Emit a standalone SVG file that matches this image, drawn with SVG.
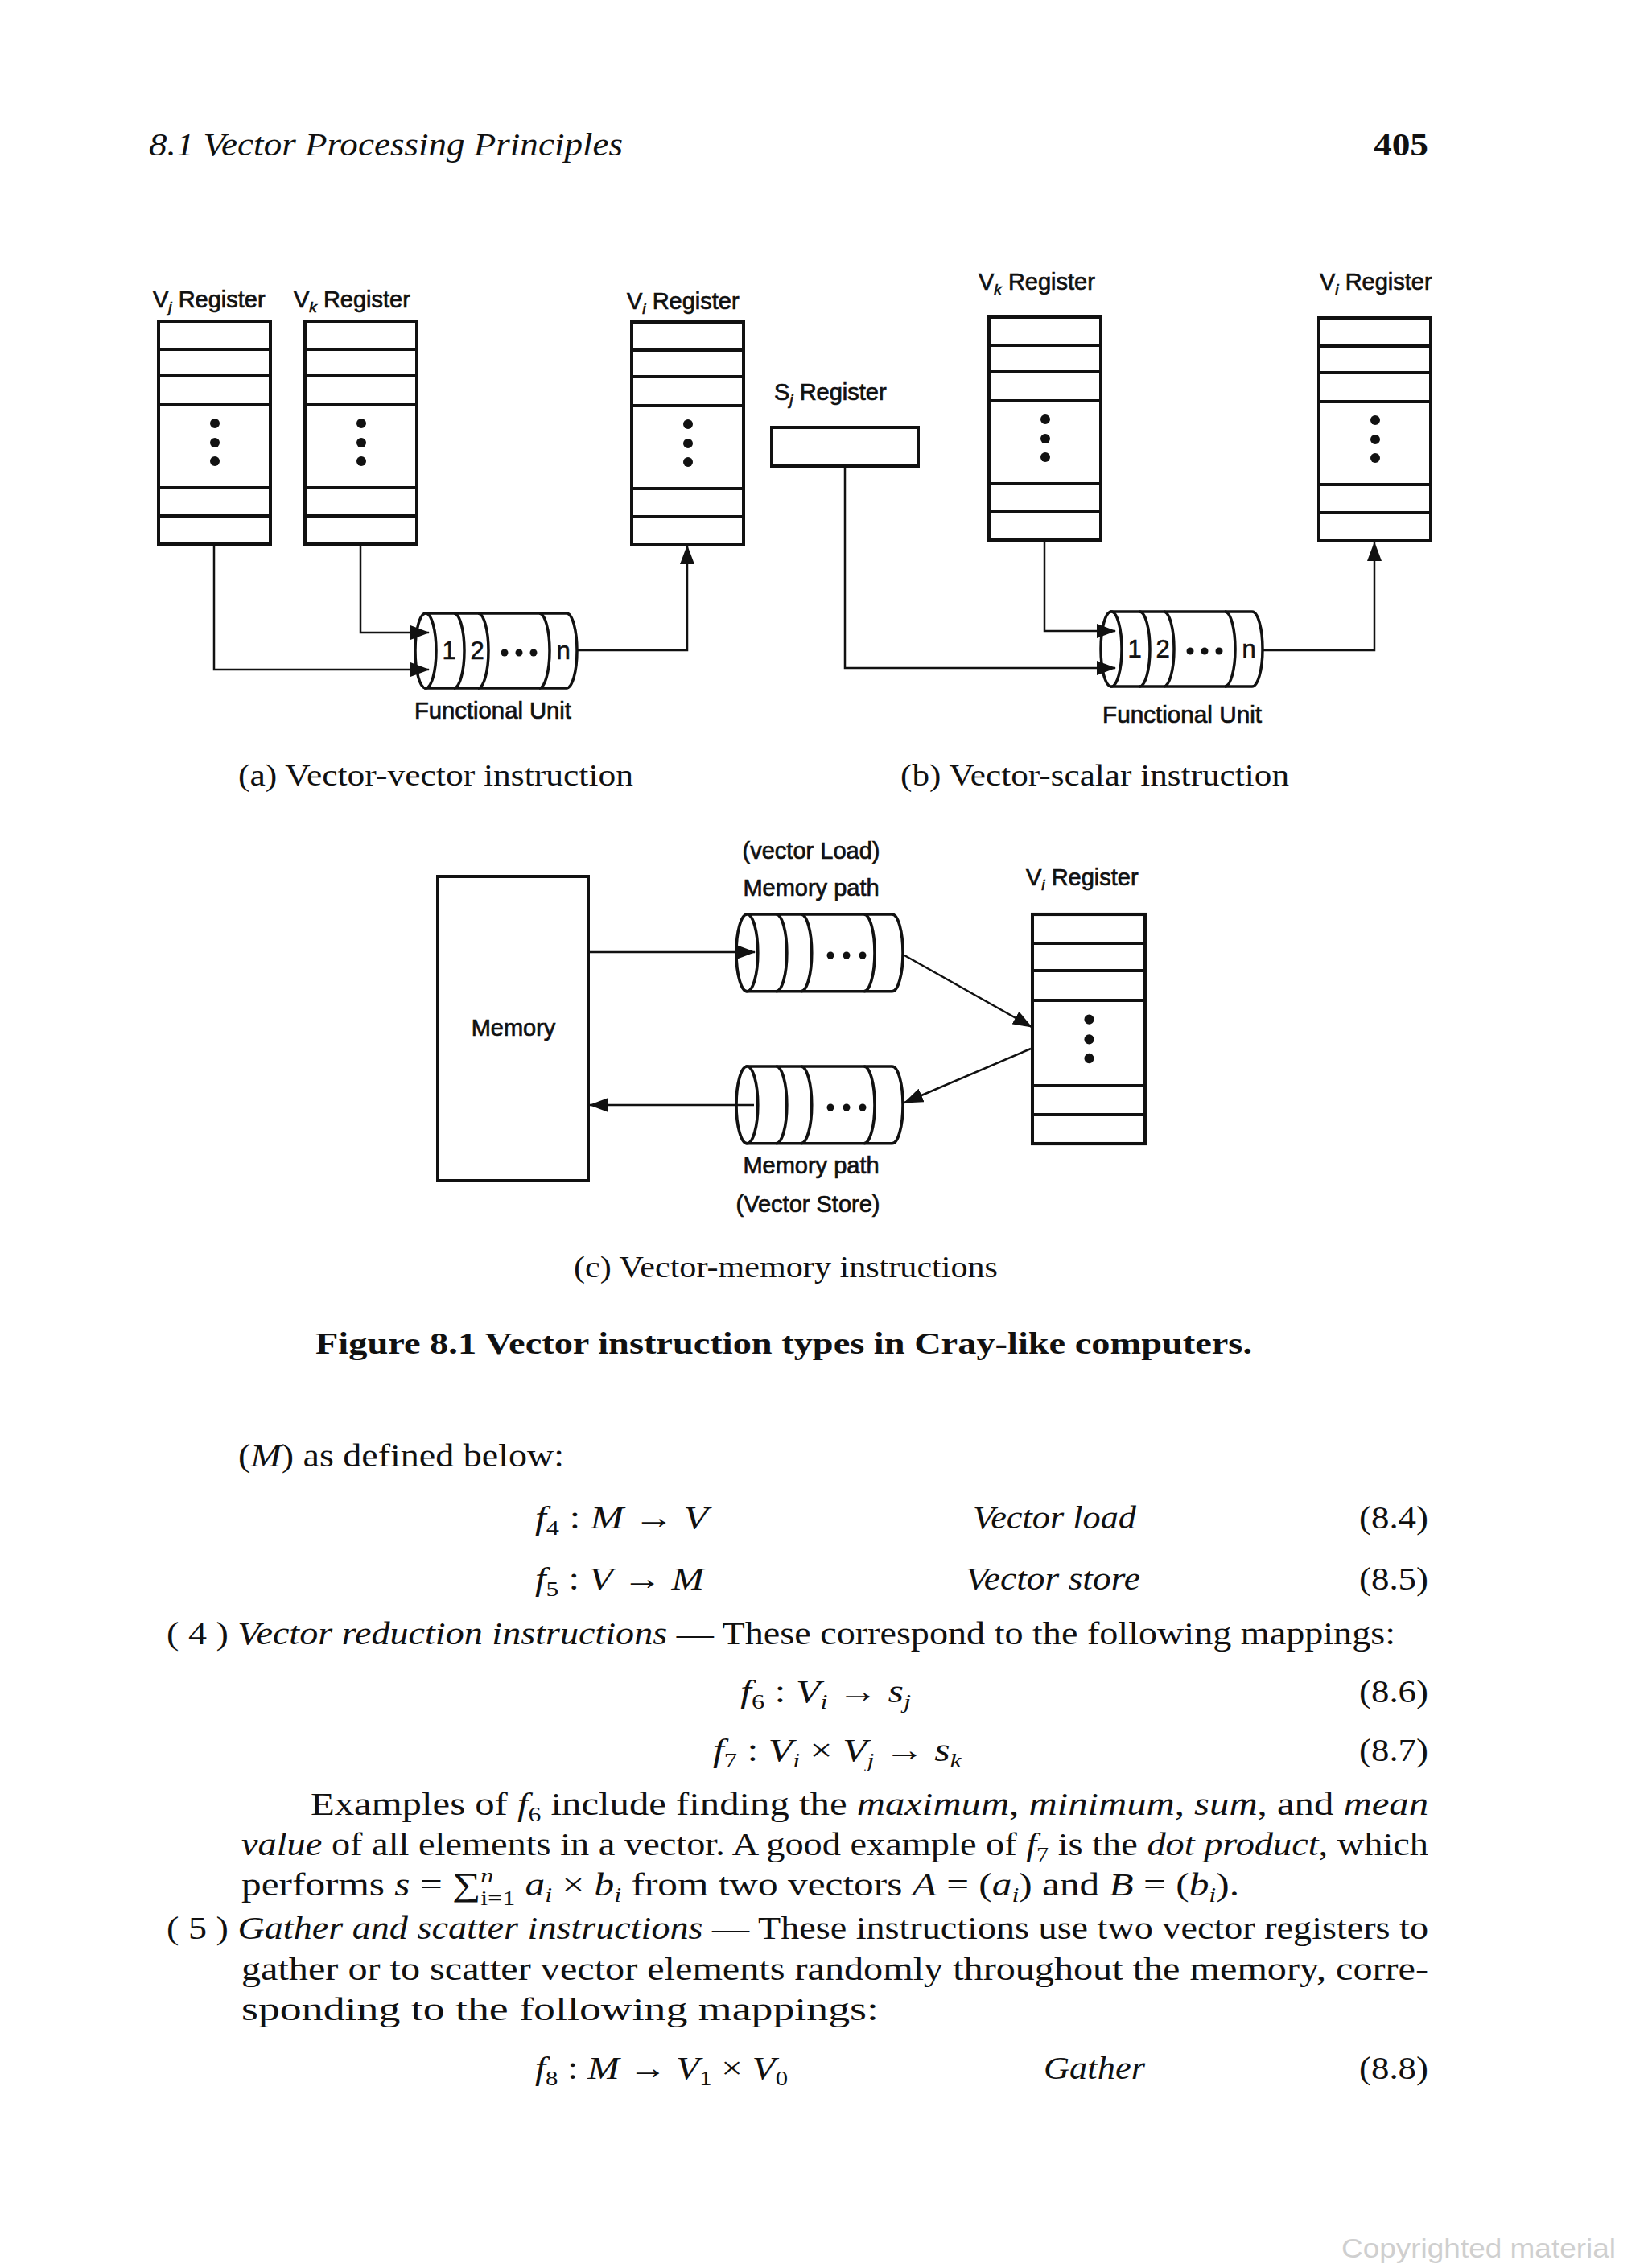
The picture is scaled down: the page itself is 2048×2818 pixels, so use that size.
<svg xmlns="http://www.w3.org/2000/svg" width="2048" height="2818" viewBox="0 0 2048 2818">
<style>
.bg{fill:#fff}
.box{fill:#fff;stroke:#111;stroke-width:4}
.div{stroke:#111;stroke-width:4}
.cyl{fill:#fff;stroke:#111;stroke-width:3.5}
.arc{fill:none;stroke:#111;stroke-width:3.5}
.con{fill:none;stroke:#111;stroke-width:2.5}
.lbl{font-family:"Liberation Sans",Arial,sans-serif;font-size:29px;fill:#111;stroke:#111;stroke-width:0.7}
.num{font-family:"Liberation Sans",Arial,sans-serif;font-size:31px;fill:#111;stroke:#111;stroke-width:0.6;text-anchor:middle}
.sub{font-size:19px;font-style:italic}
.cap{font-family:"Liberation Serif","Times New Roman",serif;font-size:38px;fill:#111}
.body{font-family:"Liberation Serif","Times New Roman",serif;font-size:40px;fill:#111}
.it{font-style:italic}
.sb{font-size:26px}
.dot{fill:#111}
.wm{font-family:"Liberation Sans",Arial,sans-serif;font-size:34px;fill:#cfcfcf}
</style>
<defs>
<marker id="ah" markerWidth="24" markerHeight="18" refX="23" refY="9" orient="auto" markerUnits="userSpaceOnUse">
<path d="M0,0 L24,9 L0,18 Z" fill="#111"/>
</marker>
<g id="reg">
<rect class="box" x="0" y="0" width="139" height="277"/>
<line class="div" x1="0" y1="35" x2="139" y2="35"/>
<line class="div" x1="0" y1="68" x2="139" y2="68"/>
<line class="div" x1="0" y1="104" x2="139" y2="104"/>
<line class="div" x1="0" y1="207" x2="139" y2="207"/>
<line class="div" x1="0" y1="242" x2="139" y2="242"/>
<circle class="dot" cx="70" cy="127" r="6"/>
<circle class="dot" cx="70" cy="151" r="6"/>
<circle class="dot" cx="70" cy="174" r="6"/>
</g>
<g id="cylinder">
<path class="cyl" d="M13,0 H188 A13,46.5 0 0 1 188,93 H13 Z"/>
<ellipse class="cyl" cx="13" cy="46.5" rx="13" ry="46.5"/>
<path class="arc" d="M48,0 A13,46.5 0 0 1 48,93 M78,0 A13,46.5 0 0 1 78,93 M154,0 A13,46.5 0 0 1 154,93"/>
</g>
</defs>
<rect class="bg" x="0" y="0" width="2048" height="2818"/>

<!-- Page header -->
<text class="body it" x="185" y="193" textLength="589" lengthAdjust="spacingAndGlyphs">8.1 Vector Processing Principles</text>
<text class="body" x="1707" y="193" font-weight="bold" textLength="68" lengthAdjust="spacingAndGlyphs">405</text>

<!-- (a) Vector-vector instruction -->
<g id="a-vj-register">
<text class="lbl" x="190" y="382">V<tspan class="sub" dy="6">j</tspan><tspan dy="-6"> Register</tspan></text>
<use href="#reg" x="197" y="399"/>
</g>
<g id="a-vk-register">
<text class="lbl" x="365" y="382">V<tspan class="sub" dy="6">k</tspan><tspan dy="-6"> Register</tspan></text>
<use href="#reg" x="379" y="399"/>
</g>
<g id="a-vi-register">
<text class="lbl" x="779" y="384">V<tspan class="sub" dy="6">i</tspan><tspan dy="-6"> Register</tspan></text>
<use href="#reg" x="785" y="400"/>
</g>
<g id="a-functional-unit">
<use href="#cylinder" x="516" y="762"/>
<text class="num" x="558" y="819">1</text>
<text class="num" x="593" y="819">2</text>
<circle class="dot" cx="627" cy="811" r="4.5"/>
<circle class="dot" cx="645" cy="811" r="4.5"/>
<circle class="dot" cx="663" cy="811" r="4.5"/>
<text class="num" x="700" y="819">n</text>
<text class="lbl" x="515" y="893" font-size="28" textLength="195" lengthAdjust="spacingAndGlyphs">Functional Unit</text>
</g>
<text class="cap" x="296" y="976" textLength="491" lengthAdjust="spacingAndGlyphs">(a) Vector-vector instruction</text>

<!-- (b) Vector-scalar instruction -->
<g id="b-sj-register">
<text class="lbl" x="962" y="497">S<tspan class="sub" dy="6">j</tspan><tspan dy="-6"> Register</tspan></text>
<rect class="box" x="959" y="531" width="182" height="48"/>
</g>
<g id="b-vk-register">
<text class="lbl" x="1216" y="360">V<tspan class="sub" dy="6">k</tspan><tspan dy="-6"> Register</tspan></text>
<use href="#reg" x="1229" y="394"/>
</g>
<g id="b-vi-register">
<text class="lbl" x="1640" y="360">V<tspan class="sub" dy="6">i</tspan><tspan dy="-6"> Register</tspan></text>
<use href="#reg" x="1639" y="395"/>
</g>
<g id="b-functional-unit">
<use href="#cylinder" x="1368" y="760"/>
<text class="num" x="1410" y="817">1</text>
<text class="num" x="1445" y="817">2</text>
<circle class="dot" cx="1479" cy="809" r="4.5"/>
<circle class="dot" cx="1497" cy="809" r="4.5"/>
<circle class="dot" cx="1515" cy="809" r="4.5"/>
<text class="num" x="1552" y="817">n</text>
<text class="lbl" x="1370" y="898" font-size="28" textLength="198" lengthAdjust="spacingAndGlyphs">Functional Unit</text>
</g>
<text class="cap" x="1119" y="976" textLength="483" lengthAdjust="spacingAndGlyphs">(b) Vector-scalar instruction</text>

<!-- (c) Vector-memory instructions -->
<g id="c-memory">
<rect class="box" x="544" y="1089" width="187" height="378"/>
<text class="lbl" x="638" y="1287" text-anchor="middle">Memory</text>
</g>
<g id="c-load-path">
<text class="lbl" x="1008" y="1067" text-anchor="middle">(vector Load)</text>
<text class="lbl" x="1008" y="1113" text-anchor="middle">Memory path</text>
<use href="#cylinder" transform="translate(915,1136) scale(1.03,1.03)"/>
<circle class="dot" cx="1032" cy="1187" r="4.5"/>
<circle class="dot" cx="1052" cy="1187" r="4.5"/>
<circle class="dot" cx="1072" cy="1187" r="4.5"/>
</g>
<g id="c-store-path">
<use href="#cylinder" transform="translate(915,1325) scale(1.03,1.03)"/>
<circle class="dot" cx="1032" cy="1376" r="4.5"/>
<circle class="dot" cx="1052" cy="1376" r="4.5"/>
<circle class="dot" cx="1072" cy="1376" r="4.5"/>
<text class="lbl" x="1008" y="1458" text-anchor="middle">Memory path</text>
<text class="lbl" x="1004" y="1506" text-anchor="middle">(Vector Store)</text>
</g>
<g id="c-vi-register">
<text class="lbl" x="1275" y="1100">V<tspan class="sub" dy="6">i</tspan><tspan dy="-6"> Register</tspan></text>
<use href="#reg" transform="translate(1283,1136) scale(1.007,1.029)"/>
</g>
<text class="cap" x="713" y="1587" textLength="527" lengthAdjust="spacingAndGlyphs">(c) Vector-memory instructions</text>

<!-- Connectors -->
<g id="connectors">
<path class="con" d="M266,676 V832 H533" marker-end="url(#ah)"/>
<path class="con" d="M448,676 V786 H533" marker-end="url(#ah)"/>
<path class="con" d="M717,808 H854 V678" marker-end="url(#ah)"/>
<path class="con" d="M1050,579 V830 H1386" marker-end="url(#ah)"/>
<path class="con" d="M1298,671 V784 H1386" marker-end="url(#ah)"/>
<path class="con" d="M1569,808 H1708 V674" marker-end="url(#ah)"/>
<path class="con" d="M731,1183 H938" marker-end="url(#ah)"/>
<path class="con" d="M1124,1187 L1282,1276" marker-end="url(#ah)"/>
<path class="con" d="M1281,1303 L1124,1370" marker-end="url(#ah)"/>
<path class="con" d="M937,1373 H733" marker-end="url(#ah)"/>
</g>

<!-- Figure caption -->
<text class="cap" x="392" y="1682" font-weight="bold" textLength="1164" lengthAdjust="spacingAndGlyphs">Figure 8.1 Vector instruction types in Cray-like computers.</text>

<!-- Body text -->
<text class="body" x="296" y="1822" textLength="405" lengthAdjust="spacingAndGlyphs">(<tspan class="it">M</tspan>) as defined below:</text>

<text class="body" x="665" y="1899" textLength="215" lengthAdjust="spacingAndGlyphs"><tspan class="it">f</tspan><tspan class="sb" dy="8">4</tspan><tspan dy="-8"> : </tspan><tspan class="it">M</tspan> → <tspan class="it">V</tspan></text>
<text class="body it" x="1209" y="1899" textLength="203" lengthAdjust="spacingAndGlyphs">Vector load</text>
<text class="body" x="1689" y="1899" textLength="86" lengthAdjust="spacingAndGlyphs">(8.4)</text>

<text class="body" x="665" y="1975" textLength="210" lengthAdjust="spacingAndGlyphs"><tspan class="it">f</tspan><tspan class="sb" dy="8">5</tspan><tspan dy="-8"> : </tspan><tspan class="it">V</tspan> → <tspan class="it">M</tspan></text>
<text class="body it" x="1200" y="1975" textLength="217" lengthAdjust="spacingAndGlyphs">Vector store</text>
<text class="body" x="1689" y="1975" textLength="86" lengthAdjust="spacingAndGlyphs">(8.5)</text>

<text class="body" x="207" y="2043" textLength="1527" lengthAdjust="spacingAndGlyphs">( 4 ) <tspan class="it">Vector reduction instructions</tspan> — These correspond to the following mappings:</text>

<text class="body" x="920" y="2115" textLength="212" lengthAdjust="spacingAndGlyphs"><tspan class="it">f</tspan><tspan class="sb" dy="8">6</tspan><tspan dy="-8"> : </tspan><tspan class="it">V</tspan><tspan class="sb it" dy="8">i</tspan><tspan dy="-8"> → </tspan><tspan class="it">s</tspan><tspan class="sb it" dy="8">j</tspan></text>
<text class="body" x="1689" y="2115" textLength="86" lengthAdjust="spacingAndGlyphs">(8.6)</text>

<text class="body" x="886" y="2188" textLength="309" lengthAdjust="spacingAndGlyphs"><tspan class="it">f</tspan><tspan class="sb" dy="8">7</tspan><tspan dy="-8"> : </tspan><tspan class="it">V</tspan><tspan class="sb it" dy="8">i</tspan><tspan dy="-8"> × </tspan><tspan class="it">V</tspan><tspan class="sb it" dy="8">j</tspan><tspan dy="-8"> → </tspan><tspan class="it">s</tspan><tspan class="sb it" dy="8">k</tspan></text>
<text class="body" x="1689" y="2188" textLength="86" lengthAdjust="spacingAndGlyphs">(8.7)</text>

<text class="body" x="386" y="2255" textLength="1389" lengthAdjust="spacingAndGlyphs">Examples of <tspan class="it">f</tspan><tspan class="sb" dy="8">6</tspan><tspan dy="-8"> include finding the </tspan><tspan class="it">maximum</tspan>, <tspan class="it">minimum</tspan>, <tspan class="it">sum</tspan>, and <tspan class="it">mean</tspan></text>
<text class="body" x="300" y="2305" textLength="1475" lengthAdjust="spacingAndGlyphs"><tspan class="it">value</tspan> of all elements in a vector. A good example of <tspan class="it">f</tspan><tspan class="sb" dy="8">7</tspan><tspan dy="-8"> is the </tspan><tspan class="it">dot product</tspan>, which</text>
<text class="body" x="300" y="2355" textLength="1240" lengthAdjust="spacingAndGlyphs">performs <tspan class="it">s</tspan> = ∑<tspan class="sb it" dy="-16">n</tspan><tspan class="sb" dx="-13" dy="28">i=1</tspan><tspan dy="-12"> </tspan><tspan class="it">a</tspan><tspan class="sb it" dy="8">i</tspan><tspan dy="-8"> × </tspan><tspan class="it">b</tspan><tspan class="sb it" dy="8">i</tspan><tspan dy="-8"> from two vectors </tspan><tspan class="it">A</tspan> = (<tspan class="it">a</tspan><tspan class="sb it" dy="8">i</tspan><tspan dy="-8">) and </tspan><tspan class="it">B</tspan> = (<tspan class="it">b</tspan><tspan class="sb it" dy="8">i</tspan><tspan dy="-8">).</tspan></text>

<text class="body" x="207" y="2409" textLength="1568" lengthAdjust="spacingAndGlyphs">( 5 ) <tspan class="it">Gather and scatter instructions</tspan> — These instructions use two vector registers to</text>
<text class="body" x="300" y="2460" textLength="1475" lengthAdjust="spacingAndGlyphs">gather or to scatter vector elements randomly throughout the memory, corre-</text>
<text class="body" x="300" y="2510" textLength="792" lengthAdjust="spacingAndGlyphs">sponding to the following mappings:</text>

<text class="body" x="665" y="2583" textLength="314" lengthAdjust="spacingAndGlyphs"><tspan class="it">f</tspan><tspan class="sb" dy="8">8</tspan><tspan dy="-8"> : </tspan><tspan class="it">M</tspan> → <tspan class="it">V</tspan><tspan class="sb" dy="8">1</tspan><tspan dy="-8"> × </tspan><tspan class="it">V</tspan><tspan class="sb" dy="8">0</tspan></text>
<text class="body it" x="1297" y="2583" textLength="126" lengthAdjust="spacingAndGlyphs">Gather</text>
<text class="body" x="1689" y="2583" textLength="86" lengthAdjust="spacingAndGlyphs">(8.8)</text>

<text class="wm" x="1667" y="2805" textLength="341" lengthAdjust="spacingAndGlyphs">Copyrighted material</text>
</svg>
